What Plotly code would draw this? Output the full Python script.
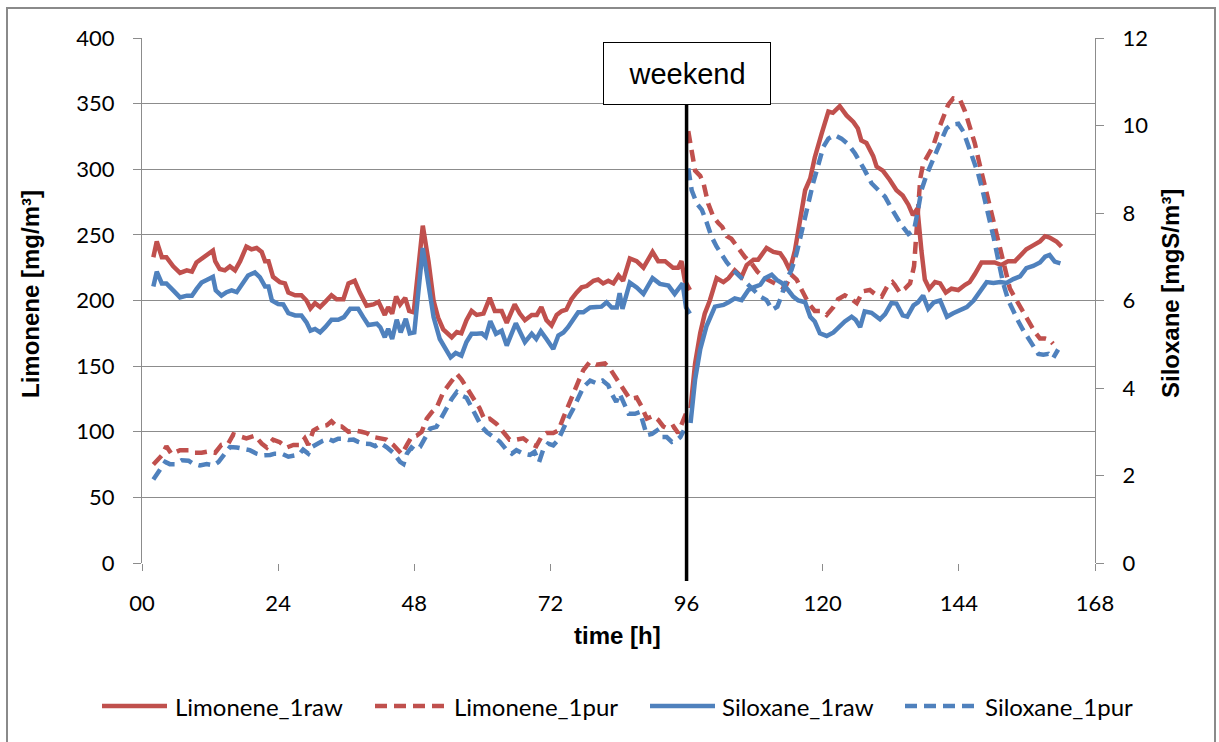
import plotly.graph_objects as go

# ---- measured series (hours since start) -------------------------------------
# Limonene raw gas [mg/m³], before and after the weekend break
lim_raw_h_a = [2.0, 2.6, 3.5, 4.3, 5.5, 6.7, 7.9, 8.8, 9.6, 10.5, 11.4, 12.5, 12.9, 13.7, 14.6, 15.5, 16.4, 17.3,
               18.4, 19.3, 20.2, 21.1, 21.7, 22.3, 23.1, 24.3, 25.2, 25.8, 27.0, 28.1, 29.0, 29.7, 30.5, 31.4,
               32.3, 33.4, 34.3, 35.5, 36.4, 37.5, 38.4, 39.6, 40.8, 41.7, 42.8, 43.4, 44.1, 44.8, 45.5, 46.4,
               47.1, 47.9, 49.5, 50.5, 51.4, 52.2, 53.1, 54.6, 55.5, 56.3, 57.2, 58.1, 59.0, 60.2, 61.3, 62.2,
               63.4, 64.3, 65.7, 66.6, 67.5, 68.7, 69.6, 70.4, 71.3, 72.2, 73.1, 74.0, 74.8, 75.7, 76.6, 77.5,
               78.4, 79.6, 80.4, 81.3, 82.2, 83.1, 84.0, 84.8, 86.0, 87.2, 88.4, 89.0, 90.0, 91.0, 92.2, 93.6,
               94.5, 95.1, 95.7, 96.6]
lim_raw_a = [233, 245, 233, 233, 226, 221, 223, 222, 229, 232, 234, 238, 230, 224, 223, 226, 223, 230,
             241, 239, 240, 237, 230, 230, 218, 214, 213, 206, 204, 204, 200, 194, 198, 195,
             199, 204, 201, 201, 213, 215, 206, 196, 197, 199, 189, 195, 190, 203, 197, 202,
             192, 191, 257, 230, 200, 187, 178, 172, 176, 175, 185, 192, 189, 190, 202, 192,
             192, 183, 197, 190, 185, 189, 189, 195, 185, 181, 189, 192, 193, 201, 206, 210,
             211, 215, 216, 213, 215, 213, 219, 215, 232, 230, 225, 230, 237, 230, 230, 225,
             225, 230, 215, 208]
lim_raw_h_b = [96.7, 97.5, 98.4, 99.2, 100.1, 101.3, 102.5, 103.4, 104.5, 105.7, 106.6, 107.8, 108.6, 110.1,
               111.3, 112.5, 113.3, 114.2, 115.1, 116.0, 116.9, 117.8, 118.6, 119.8, 121.0, 121.8, 123.0,
               124.2, 125.4, 126.2, 126.8, 127.7, 128.9, 129.5, 130.6, 131.8, 133.0, 134.1, 135.1, 135.9,
               136.7, 137.4, 138.0, 138.8, 139.8, 140.7, 141.7, 142.7, 143.9, 145.1, 145.9, 146.8, 148.0,
               149.2, 150.3, 151.5, 152.7, 153.9, 155.0, 155.9, 157.1, 158.3, 159.2, 160.0, 161.2, 162.1]
lim_raw_b = [118, 152, 175, 190, 200, 217, 214, 217, 223, 218, 227, 231, 231, 240,
             237, 236, 231, 223, 238, 259, 284, 293, 309, 327, 344, 343, 348,
             341, 336, 331, 322, 320, 310, 302, 299, 292, 284, 280, 273, 265,
             270, 238, 216, 209, 214, 213, 206, 209, 208, 212, 214, 220, 229,
             229, 229, 227, 230, 230, 235, 239, 242, 245, 249, 248, 245, 241]

# Limonene purified gas [mg/m³]
lim_pur_h_a = [2.0, 3.5, 4.3, 5.2, 6.7, 8.2, 9.3, 10.5, 11.7, 12.9, 14.0, 15.2, 16.1, 17.3, 18.4, 19.9, 21.1,
               22.0, 23.1, 24.3, 25.5, 26.7, 27.8, 28.7, 29.3, 30.2, 31.4, 32.6, 33.4, 34.3, 35.2, 36.4,
               37.5, 38.7, 39.6, 40.8, 42.0, 43.1, 44.3, 45.8, 46.7, 47.5, 48.4, 49.3, 50.2, 51.1, 51.9,
               53.1, 54.3, 55.5, 56.3, 57.5, 58.7, 59.5, 60.4, 61.3, 62.5, 63.7, 64.8, 66.0, 67.2, 68.4,
               69.5, 70.4, 71.3, 72.5, 73.4, 74.3, 75.1, 76.0, 76.9, 77.8, 78.9, 80.1, 81.6, 82.5, 83.4,
               84.2, 85.2, 86.0, 87.2, 88.1, 89.0, 90.1, 91.0, 91.9, 92.8, 93.7, 94.5, 95.4, 96.0]
lim_pur_a = [75, 82, 89, 83, 86, 86, 84, 84, 85, 84, 90, 91, 98, 96, 95, 97, 91,
             88, 94, 92, 88, 90, 90, 95, 90, 101, 104, 105, 108, 104, 104, 100,
             101, 100, 99, 96, 95, 94, 90, 83, 90, 96, 97, 100, 110, 115, 118,
             130, 137, 144, 140, 132, 124, 118, 109, 110, 106, 100, 94, 94, 95, 91,
             89, 96, 99, 99, 101, 111, 120, 129, 138, 147, 153, 151, 152, 148, 142,
             138, 130, 125, 126, 119, 110, 112, 109, 104, 102, 104, 99, 110, 115]
lim_pur_h_b = [96.3, 96.9, 97.5, 98.4, 99.0, 99.8, 100.7, 101.6, 102.3, 103.1, 103.9, 105.1, 106.3, 107.5,
               108.5, 109.8, 111.0, 112.2, 113.3, 114.4, 115.4, 116.3, 117.5, 118.6, 119.8, 120.7, 121.9,
               122.7, 123.9, 125.1, 126.0, 127.1, 128.3, 129.5, 130.4, 131.4, 132.3, 132.7, 133.6, 134.5,
               135.4, 136.1, 136.6, 137.2, 137.7, 138.6, 139.5, 140.4, 141.3, 142.1, 143.0, 144.2, 145.1,
               145.9, 146.8, 147.7, 148.6, 149.5, 150.3, 151.2, 152.1, 153.0, 153.9, 154.8, 155.6, 156.5,
               157.4, 158.3, 159.2, 160.0, 160.6]
lim_pur_b = [329, 311, 299, 295, 289, 274, 264, 259, 256, 249, 247, 240, 233, 228,
             222, 217, 214, 211, 209, 220, 216, 208, 198, 192, 192, 189, 195,
             201, 204, 201, 198, 207, 208, 204, 203, 211, 214, 212, 206, 209,
             213, 226, 254, 293, 304, 311, 318, 330, 340, 349, 354, 353, 344,
             332, 320, 303, 287, 271, 256, 239, 222, 209, 202, 195, 190, 183,
             176, 171, 171, 170, 167]

# Siloxane raw gas [mgS/m³]
sil_raw_h_a = [2.0, 2.6, 3.5, 4.3, 5.5, 6.7, 7.9, 8.8, 9.6, 10.5, 11.4, 12.5, 13.0, 14.0, 14.9, 15.8, 16.7,
               17.6, 18.7, 19.9, 20.8, 21.7, 22.3, 22.9, 24.0, 24.9, 25.8, 27.0, 28.1, 29.0, 29.7, 30.5,
               31.4, 32.3, 33.4, 34.6, 35.6, 36.7, 38.1, 39.0, 39.9, 41.4, 42.0, 42.8, 43.4, 44.1, 44.9,
               45.6, 46.5, 47.2, 48.0, 49.5, 50.5, 51.4, 52.5, 53.4, 54.4, 55.3, 56.3, 57.2, 58.1, 59.0,
               59.9, 60.6, 61.4, 62.4, 63.4, 64.3, 65.9, 67.5, 68.7, 69.5, 70.3, 71.3, 72.5, 73.4, 74.3,
               75.1, 76.0, 76.9, 77.8, 79.0, 80.1, 81.0, 81.9, 82.8, 83.7, 84.2, 84.7, 86.0, 87.2, 88.4,
               90.0, 91.3, 92.8, 93.9, 95.3, 95.9, 96.6]
sil_raw_a = [6.32, 6.66, 6.39, 6.39, 6.23, 6.07, 6.11, 6.11, 6.26, 6.41, 6.47, 6.54, 6.23, 6.11, 6.19, 6.23, 6.19,
             6.38, 6.57, 6.64, 6.53, 6.32, 6.32, 6.00, 5.92, 5.91, 5.71, 5.66, 5.66, 5.50, 5.31, 5.35,
             5.27, 5.39, 5.56, 5.56, 5.62, 5.81, 5.81, 5.62, 5.44, 5.47, 5.39, 5.16, 5.35, 5.12, 5.56,
             5.27, 5.58, 5.25, 5.27, 7.20, 6.30, 5.62, 5.12, 4.93, 4.70, 4.80, 4.74, 5.05, 5.24, 5.24,
             5.25, 5.17, 5.53, 5.24, 5.31, 4.97, 5.48, 5.05, 5.24, 5.12, 5.30, 5.12, 4.89, 5.20, 5.27,
             5.39, 5.58, 5.73, 5.73, 5.84, 5.85, 5.86, 5.96, 5.84, 5.84, 6.17, 5.81, 6.41, 6.30, 6.15,
             6.51, 6.38, 6.34, 6.15, 6.39, 5.84, 5.70]
sil_raw_h_b = [96.7, 97.5, 98.4, 99.5, 101.0, 102.5, 103.4, 104.5, 105.7, 106.9, 107.8, 109.0, 109.8, 111.0,
               111.9, 112.8, 113.9, 114.8, 115.7, 116.9, 117.8, 118.6, 119.5, 120.7, 121.9, 123.0, 123.9,
               125.1, 125.8, 126.6, 127.4, 128.6, 130.1, 131.0, 132.1, 133.0, 134.1, 134.9, 136.0, 136.8,
               137.7, 138.6, 139.6, 140.7, 141.9, 143.0, 144.2, 145.4, 146.6, 147.7, 148.9, 150.1, 151.3,
               152.4, 153.6, 154.8, 155.9, 157.1, 158.3, 159.2, 160.0, 160.9, 161.9]
sil_raw_b = [3.20, 4.19, 4.88, 5.41, 5.86, 5.90, 5.96, 6.05, 6.01, 6.24, 6.30, 6.36, 6.51, 6.59,
             6.47, 6.40, 6.24, 6.09, 6.00, 5.96, 5.63, 5.52, 5.25, 5.19, 5.27, 5.41, 5.52,
             5.63, 5.56, 5.39, 5.75, 5.72, 5.57, 5.69, 5.94, 5.93, 5.66, 5.63, 5.89, 5.96,
             6.11, 5.81, 5.96, 6.00, 5.63, 5.71, 5.77, 5.85, 6.00, 6.19, 6.42, 6.40, 6.42,
             6.40, 6.49, 6.55, 6.74, 6.79, 6.87, 7.00, 7.04, 6.89, 6.85]

# Siloxane purified gas [mgS/m³]
sil_pur_h_a = [2.0, 3.2, 4.1, 4.9, 5.8, 7.0, 8.2, 9.0, 10.2, 11.4, 12.6, 13.5, 14.3, 15.5, 16.7, 17.9, 19.0,
               20.2, 21.4, 22.6, 23.4, 24.6, 25.8, 27.0, 27.8, 28.4, 29.3, 29.9, 30.8, 31.8, 32.8, 33.7,
               34.6, 35.5, 36.4, 37.3, 38.1, 39.0, 40.2, 41.1, 42.0, 43.1, 44.3, 45.5, 46.1, 46.7, 47.5,
               48.1, 49.0, 49.9, 50.8, 51.9, 52.8, 53.7, 54.6, 55.5, 56.3, 57.2, 58.1, 59.0, 59.9, 60.8,
               62.0, 63.1, 64.3, 65.2, 66.0, 67.2, 68.4, 69.2, 70.0, 70.7, 71.6, 72.5, 73.4, 74.3, 75.1,
               76.0, 76.9, 77.8, 79.0, 80.1, 81.2, 82.2, 82.8, 83.6, 84.2, 84.9, 85.8, 86.9, 87.8, 88.4,
               89.0, 89.9, 90.8, 91.6, 92.5, 93.4, 94.3, 94.9, 95.5]
sil_pur_a = [1.91, 2.12, 2.31, 2.26, 2.26, 2.35, 2.34, 2.27, 2.23, 2.26, 2.23, 2.31, 2.46, 2.65, 2.64, 2.61, 2.58,
             2.50, 2.46, 2.47, 2.50, 2.50, 2.43, 2.46, 2.50, 2.59, 2.50, 2.65, 2.73, 2.79, 2.84, 2.79,
             2.84, 2.84, 2.81, 2.82, 2.77, 2.73, 2.72, 2.67, 2.74, 2.65, 2.52, 2.31, 2.26, 2.50, 2.64,
             2.58, 2.65, 2.84, 3.07, 3.11, 3.33, 3.52, 3.75, 3.91, 3.83, 3.78, 3.56, 3.33, 3.11, 2.99,
             2.88, 2.77, 2.58, 2.50, 2.58, 2.50, 2.47, 2.54, 2.31, 2.58, 2.73, 2.69, 2.82, 3.11, 3.30,
             3.52, 3.79, 4.02, 4.17, 4.11, 4.17, 4.06, 3.87, 3.68, 3.87, 3.68, 3.41, 3.41, 3.45, 3.18,
             2.92, 2.95, 3.03, 2.88, 2.88, 2.77, 2.81, 2.88, 3.03]
sil_pur_h_b = [96.3, 96.9, 97.8, 98.7, 99.5, 100.4, 101.3, 102.2, 103.1, 104.2, 105.4, 106.6, 107.8, 109.0,
               110.1, 111.1, 112.0, 112.7, 113.6, 114.5, 115.4, 116.3, 117.1, 118.3, 119.2, 120.1, 121.0,
               122.1, 123.3, 124.5, 125.7, 126.6, 127.4, 128.6, 129.8, 131.0, 132.1, 133.0, 133.9, 135.1,
               136.1, 136.8, 137.4, 138.3, 139.2, 140.1, 140.9, 141.8, 142.7, 143.9, 144.8, 145.6, 146.5,
               147.4, 148.3, 149.2, 150.1, 151.0, 151.8, 152.7, 153.6, 154.5, 155.3, 156.2, 157.1, 158.0,
               158.9, 159.8, 160.6, 161.5]
sil_pur_b = [9.02, 8.52, 8.22, 8.07, 7.80, 7.46, 7.23, 7.04, 6.87, 6.70, 6.55, 6.41, 6.24, 6.09,
             6.01, 5.79, 5.86, 6.09, 6.47, 6.70, 7.08, 7.61, 8.07, 8.68, 9.09, 9.51, 9.70,
             9.78, 9.70, 9.57, 9.36, 9.17, 8.98, 8.68, 8.52, 8.37, 8.11, 7.91, 7.72, 7.52,
             7.61, 8.07, 8.52, 8.87, 9.13, 9.40, 9.66, 9.93, 10.02, 10.04, 9.86, 9.55, 9.25,
             8.90, 8.45, 7.99, 7.46, 6.89, 6.40, 6.01, 5.75, 5.52, 5.33, 5.14, 4.95, 4.78,
             4.76, 4.78, 4.68, 4.88]

# axis ticks
x_ticks = [0, 24, 48, 72, 96, 120, 144, 168]
x_tick_text = ["00", "24", "48", "72", "96", "120", "144", "168"]
weekend_start = 96

# ---- styling -----------------------------------------------------------------
RED = "#C0504D"
BLUE = "#4F81BD"
GRID = "#8C8C8C"
W, H = 1219, 742
ML, MR, MT, MB = 142, 124, 38, 179
PW, PH = W - ML - MR, H - MT - MB
LINE_W = 4.5
DASH = "12px,7px"
TICK_FONT = dict(family="Lato, Carlito, Calibri, sans-serif", size=22, color="#000000")
TITLE_FONT = dict(family="Liberation Sans, Arial, sans-serif", size=24, color="#000000")
LEGEND_FONT = dict(family="Lato, Carlito, Calibri, sans-serif", size=24, color="#000000")


def px_x(p):
    return (p - ML) / PW


def px_y(p):
    return (H - MB - p) / PH


def joined(a, b):
    return a + [None] + b


fig = go.Figure()
series = [
    ("Limonene_1raw", lim_raw_h_a, lim_raw_a, lim_raw_h_b, lim_raw_b, RED, "solid", "y"),
    ("Limonene_1pur", lim_pur_h_a, lim_pur_a, lim_pur_h_b, lim_pur_b, RED, DASH, "y"),
    ("Siloxane_1raw", sil_raw_h_a, sil_raw_a, sil_raw_h_b, sil_raw_b, BLUE, "solid", "y2"),
    ("Siloxane_1pur", sil_pur_h_a, sil_pur_a, sil_pur_h_b, sil_pur_b, BLUE, DASH, "y2"),
]
for name, ha, va, hb, vb, color, dash, axis in series:
    fig.add_trace(go.Scatter(
        x=joined(ha, hb), y=joined(va, vb), name=name, mode="lines",
        line=dict(color=color, width=LINE_W, dash=dash),
        connectgaps=False, yaxis=axis, showlegend=False,
    ))

fig.update_layout(
    width=W, height=H,
    margin=dict(l=ML, r=MR, t=MT, b=MB, autoexpand=False),
    paper_bgcolor="white", plot_bgcolor="white",
    showlegend=False,
    xaxis=dict(
        range=[0, 168], tickvals=x_ticks, ticktext=x_tick_text,
        showgrid=False, zeroline=False, showline=False,
        ticks="outside", ticklen=7, tickcolor=GRID, tickwidth=1,
        tickfont=TICK_FONT, ticklabelstandoff=14,
    ),
    yaxis=dict(
        range=[0, 400], dtick=50, showgrid=True, gridcolor=GRID, gridwidth=1,
        zeroline=False, showline=True, linecolor=GRID, linewidth=1,
        ticks="outside", ticklen=8, tickcolor=GRID,
        tickfont=TICK_FONT, ticklabelstandoff=14,
    ),
    yaxis2=dict(
        range=[0, 12], dtick=2, overlaying="y", side="right",
        showgrid=False, zeroline=False, showline=True, linecolor=GRID, linewidth=1,
        ticks="outside", ticklen=8, tickcolor=GRID,
        tickfont=TICK_FONT, ticklabelstandoff=14,
    ),
)

# legend row below the plot: a line sample and a label per series
legend_row_y = px_y(706)
legend_slots = [(102, 167, 173), (375, 445, 452), (650, 715, 720), (905, 975, 983)]
for (name, *_rest), (lx0, lx1, tx) in zip(series, legend_slots):
    color, dash = _rest[4], _rest[5]
    fig.add_shape(type="line", xref="paper", yref="paper", x0=px_x(lx0), x1=px_x(lx1),
                  y0=legend_row_y, y1=legend_row_y,
                  line=dict(color=color, width=LINE_W, dash=dash))
    fig.add_annotation(xref="paper", yref="paper", x=px_x(tx), y=legend_row_y, text=name,
                       showarrow=False, xanchor="left", yanchor="middle", font=LEGEND_FONT)

# weekend marker line and its label box
fig.add_shape(type="line", xref="x", yref="paper", x0=weekend_start, x1=weekend_start,
              y0=px_y(581), y1=px_y(105), line=dict(color="black", width=3.5))
fig.add_annotation(
    xref="x", yref="paper", x=weekend_start, y=px_y(73.5), xanchor="center", yanchor="middle",
    text="weekend", showarrow=False, width=166, height=61, borderpad=0,
    bgcolor="white", bordercolor="black", borderwidth=1,
    font=dict(family="Liberation Sans, Arial, sans-serif", size=29, color="#000000"),
)

# axis titles
fig.add_annotation(xref="paper", yref="paper", x=px_x(30), y=px_y(294), text="<b>Limonene [mg/m³]</b>",
                   textangle=-90, showarrow=False, xanchor="center", yanchor="middle", font=TITLE_FONT)
fig.add_annotation(xref="paper", yref="paper", x=px_x(1170), y=px_y(294), text="<b>Siloxane [mgS/m³]</b>",
                   textangle=-90, showarrow=False, xanchor="center", yanchor="middle", font=TITLE_FONT)
fig.add_annotation(xref="paper", yref="paper", x=px_x(617), y=px_y(635), text="<b>time [h]</b>",
                   showarrow=False, xanchor="center", yanchor="middle", font=TITLE_FONT)

# chart frame
fig.add_shape(type="rect", xref="paper", yref="paper", x0=px_x(7), x1=px_x(1215), y0=px_y(748), y1=px_y(8),
              line=dict(color="#8A8A8A", width=2), fillcolor="rgba(0,0,0,0)", layer="below")

fig.write_html("out.html")
